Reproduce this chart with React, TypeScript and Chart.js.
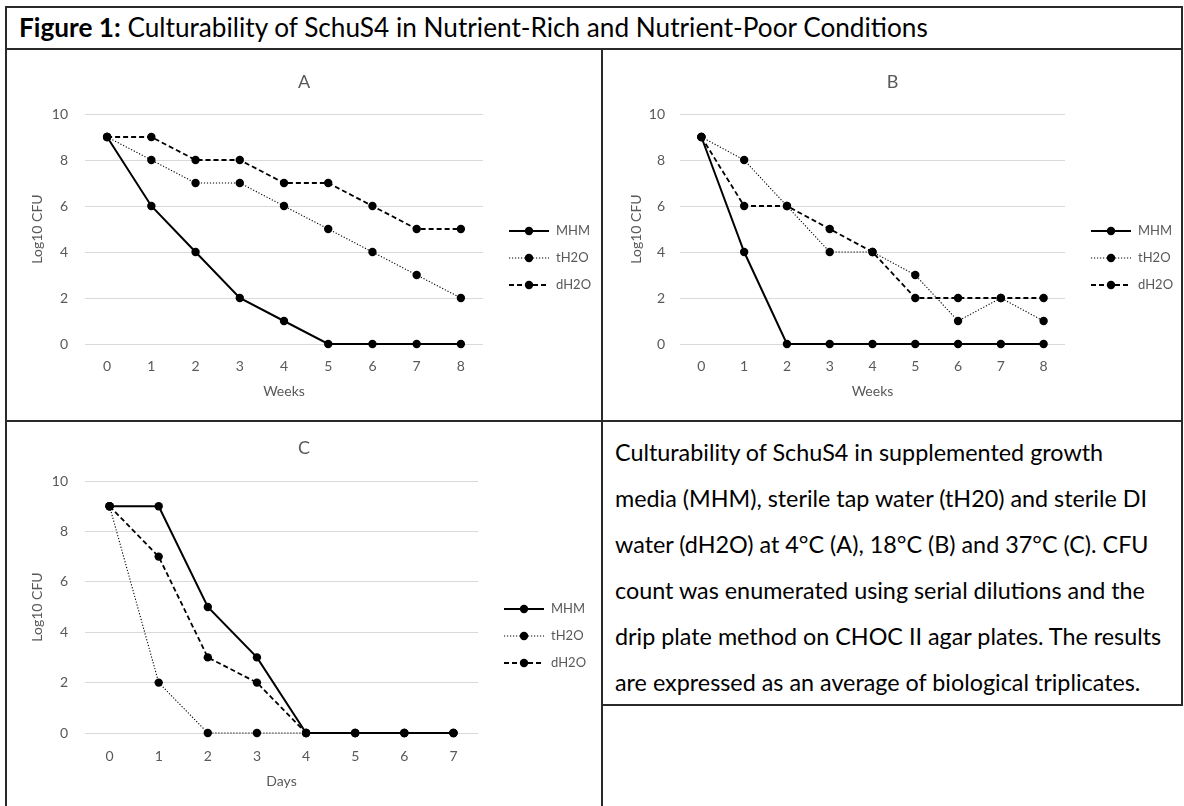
import React, { useEffect, useMemo, useRef } from "react";
import { Chart, registerables } from "chart.js";

Chart.register(...registerables);

// ---------------- data ----------------
const weekLabels = ["0", "1", "2", "3", "4", "5", "6", "7", "8"];
const dayLabels = ["0", "1", "2", "3", "4", "5", "6", "7"];
const seriesNames = ["MHM", "tH2O", "dH2O"];

const panelA_MHM = [9, 6, 4, 2, 1, 0, 0, 0, 0];
const panelA_tH2O = [9, 8, 7, 7, 6, 5, 4, 3, 2];
const panelA_dH2O = [9, 9, 8, 8, 7, 7, 6, 5, 5];

const panelB_MHM = [9, 4, 0, 0, 0, 0, 0, 0, 0];
const panelB_tH2O = [9, 8, 6, 4, 4, 3, 1, 2, 1];
const panelB_dH2O = [9, 6, 6, 5, 4, 2, 2, 2, 2];

const panelC_MHM = [9, 9, 5, 3, 0, 0, 0, 0];
const panelC_tH2O = [9, 2, 0, 0, 0, 0, 0, 0];
const panelC_dH2O = [9, 7, 3, 2, 0, 0, 0, 0];

const yTickMin = 0;
const yTickMax = 10;
const yTickStep = 2;
const yAxisTitle = "Log10 CFU";

const figureLabel = "Figure 1:";
const figureTitle = "Culturability of SchuS4 in Nutrient-Rich and Nutrient-Poor Conditions";
const captionLines = [
  "Culturability of SchuS4 in supplemented growth",
  "media (MHM), sterile tap water (tH20) and sterile DI",
  "water (dH2O) at 4°C (A), 18°C (B) and 37°C (C). CFU",
  "count was enumerated using serial dilutions and the",
  "drip plate method on CHOC II agar plates. The results",
  "are expressed as an average of biological triplicates.",
];

// ---------------- styles ----------------
const FONT = "Lato, 'Open Sans', sans-serif";
const AXIS_GRAY = "#595959";
const BORDER = "#2a2a2a";

const seriesStyles = [
  { borderWidth: 2, borderDash: [] as number[] },
  { borderWidth: 1.1, borderDash: [1.2, 1.8] },
  { borderWidth: 1.8, borderDash: [5, 3] },
];

type PanelCfg = {
  title: string;
  xTitle: string;
  labels: string[];
  values: number[][];
  box: { left: number; top: number; width: number; height: number };
  yAxisW: number;
  rightW: number;
  xAxisH: number;
  padBottom: number;
  titlePad: { top: number; bottom: number };
  yTitlePad: number;
  yTickPad: number;
  xTickPad: number;
  legendFrac: number;
};

const panels: PanelCfg[] = [
  {
    title: "A",
    xTitle: "Weeks",
    labels: weekLabels,
    values: [panelA_MHM, panelA_tH2O, panelA_dH2O],
    box: { left: 7, top: 51, width: 594, height: 369 },
    yAxisW: 78,
    rightW: 118,
    xAxisH: 56,
    padBottom: 20,
    titlePad: { top: 20.2, bottom: 21.2 },
    yTitlePad: 21.6,
    yTickPad: 17,
    xTickPad: 13.6,
    legendFrac: 0.626,
  },
  {
    title: "B",
    xTitle: "Weeks",
    labels: weekLabels,
    values: [panelB_MHM, panelB_tH2O, panelB_dH2O],
    box: { left: 604, top: 51, width: 577, height: 369 },
    yAxisW: 76,
    rightW: 116,
    xAxisH: 56,
    padBottom: 20,
    titlePad: { top: 20.2, bottom: 21.2 },
    yTitlePad: 23.6,
    yTickPad: 15,
    xTickPad: 13.6,
    legendFrac: 0.626,
  },
  {
    title: "C",
    xTitle: "Days",
    labels: dayLabels,
    values: [panelC_MHM, panelC_tH2O, panelC_dH2O],
    box: { left: 7, top: 422, width: 594, height: 384 },
    yAxisW: 78,
    rightW: 123,
    xAxisH: 56.4,
    padBottom: 16.6,
    titlePad: { top: 15.2, bottom: 22.2 },
    yTitlePad: 21.6,
    yTickPad: 17,
    xTickPad: 14.6,
    legendFrac: 0.615,
  },
];

// custom legend: line sample with marker, placed right of the plot area
const lineLegend = {
  id: "lineLegend",
  afterDraw(chart: any, _args: any, opts: any) {
    const { ctx, chartArea } = chart;
    const x0 = chartArea.left + chartArea.width + opts.offsetX;
    const cy = chartArea.top + chartArea.height * opts.frac;
    const ds = chart.data.datasets;
    const n = ds.length;
    ds.forEach((d: any, i: number) => {
      const y = cy + (i - (n - 1) / 2) * opts.spacing;
      ctx.save();
      ctx.strokeStyle = d.borderColor;
      ctx.lineWidth = d.borderWidth;
      ctx.setLineDash(d.borderDash || []);
      ctx.beginPath();
      ctx.moveTo(x0, y);
      ctx.lineTo(x0 + opts.lineLength, y);
      ctx.stroke();
      ctx.setLineDash([]);
      ctx.fillStyle = d.pointBackgroundColor;
      ctx.beginPath();
      ctx.arc(x0 + opts.lineLength / 2, y, d.pointRadius, 0, Math.PI * 2);
      ctx.fill();
      ctx.fillStyle = opts.color;
      ctx.font = opts.labelFont;
      ctx.textBaseline = "middle";
      ctx.textAlign = "left";
      ctx.fillText(d.label, x0 + opts.lineLength + opts.gap, y);
      ctx.restore();
    });
  },
};

function ChartPanel({ p }: { p: PanelCfg }) {
  const ref = useRef<HTMLCanvasElement>(null);
  useEffect(() => {
    const tickFont = { family: FONT, size: 14 };
    const chart = new Chart(ref.current as HTMLCanvasElement, {
      type: "line",
      data: {
        labels: p.labels,
        datasets: p.values.map((v, i) => ({
          label: seriesNames[i],
          data: v,
          borderColor: "#000",
          backgroundColor: "#000",
          pointBackgroundColor: "#000",
          pointBorderColor: "#000",
          pointRadius: 4.2,
          pointHoverRadius: 4.2,
          pointBorderWidth: 0,
          borderWidth: seriesStyles[i].borderWidth,
          borderDash: seriesStyles[i].borderDash,
          tension: 0,
          fill: false,
          clip: false as any,
        })),
      },
      options: {
        animation: false,
        responsive: false,
        devicePixelRatio: 1,
        layout: { padding: { left: 0, right: 0, top: 0, bottom: p.padBottom } },
        plugins: {
          legend: { display: false },
          tooltip: { enabled: false },
          title: {
            display: true,
            text: p.title,
            color: AXIS_GRAY,
            font: { family: FONT, size: 18, weight: "normal" },
            padding: p.titlePad,
          },
          lineLegend: {
            offsetX: 26,
            lineLength: 40,
            gap: 7,
            spacing: 27,
            frac: p.legendFrac,
            labelFont: `13px ${FONT}`,
            color: AXIS_GRAY,
          },
        } as any,
        scales: {
          x: {
            type: "category",
            offset: true,
            grid: { display: false, drawTicks: false },
            border: { display: false },
            ticks: { color: AXIS_GRAY, font: tickFont, padding: p.xTickPad, maxRotation: 0, autoSkip: false },
            title: { display: true, text: p.xTitle, color: AXIS_GRAY, font: tickFont, padding: 0 },
            afterFit: (s: any) => {
              s.height = p.xAxisH;
            },
          },
          y: {
            type: "linear",
            position: "left",
            min: yTickMin,
            max: yTickMax,
            ticks: { stepSize: yTickStep, color: AXIS_GRAY, font: tickFont, padding: p.yTickPad },
            grid: { color: "#d9d9d9", lineWidth: 1, drawTicks: false },
            border: { display: false },
            title: {
              display: true,
              text: yAxisTitle,
              color: AXIS_GRAY,
              font: tickFont,
              padding: { top: p.yTitlePad, bottom: 0 },
            },
            afterFit: (s: any) => {
              s.width = p.yAxisW;
            },
          },
          spacer: {
            type: "linear",
            position: "right",
            display: true,
            grid: { display: false, drawTicks: false },
            border: { display: false },
            ticks: { display: false },
            afterFit: (s: any) => {
              s.width = p.rightW;
            },
          },
        } as any,
      },
      plugins: [lineLegend as any],
    });
    return () => chart.destroy();
  }, [p]);
  return (
    <canvas
      ref={ref}
      width={p.box.width}
      height={p.box.height}
      style={{
        position: "absolute",
        left: p.box.left,
        top: p.box.top,
        width: p.box.width,
        height: p.box.height,
      }}
    />
  );
}

function measureParts(parts: { text: string; weight: number }[]): number {
  const ctx = document.createElement("canvas").getContext("2d") as CanvasRenderingContext2D;
  let w = 0;
  for (const part of parts) {
    ctx.font = `${part.weight} 100px ${FONT}`;
    w += ctx.measureText(part.text).width;
  }
  return w;
}

function Line({ x, y, w, h }: { x: number; y: number; w: number; h: number }) {
  return <div style={{ position: "absolute", left: x, top: y, width: w, height: h, background: BORDER }} />;
}

export default function App() {
  const titleSize = useMemo(() => {
    const w = measureParts([
      { text: figureLabel, weight: 700 },
      { text: " " + figureTitle, weight: 400 },
    ]);
    return (100 * 911) / w;
  }, []);
  const bodySize = useMemo(() => {
    const w = measureParts(captionLines.map((t) => ({ text: t, weight: 400 })));
    return (100 * 3161) / w;
  }, []);

  const titleBaseline = 38;
  const bodyBaseline = 461;
  const bodyLineGap = 46;

  return (
    <div
      style={{
        position: "absolute",
        left: 0,
        top: 0,
        width: 1184,
        height: 806,
        overflow: "hidden",
        background: "#fff",
        fontFamily: FONT,
      }}
    >
      {/* table borders */}
      <Line x={5} y={6} w={1178} h={2} />
      <Line x={5} y={48} w={1178} h={2} />
      <Line x={5} y={420} w={1178} h={2} />
      <Line x={5} y={6} w={2} h={800} />
      <Line x={601} y={48} w={2} h={758} />
      <Line x={1181} y={6} w={2} h={700} />
      <Line x={601} y={704} w={582} h={2} />

      {/* figure title */}
      <div
        style={{
          position: "absolute",
          left: 19,
          top: titleBaseline - 0.987 * titleSize,
          fontSize: titleSize,
          lineHeight: `${1.2 * titleSize}px`,
          whiteSpace: "nowrap",
          color: "#000",
        }}
      >
        <span style={{ fontWeight: 700 }}>{figureLabel}</span> {figureTitle}
      </div>

      {/* caption */}
      {captionLines.map((t, i) => (
        <div
          key={i}
          style={{
            position: "absolute",
            left: 615,
            top: bodyBaseline + i * bodyLineGap - 0.987 * bodySize,
            fontSize: bodySize,
            lineHeight: `${1.2 * bodySize}px`,
            whiteSpace: "nowrap",
            color: "#000",
          }}
        >
          {t}
        </div>
      ))}

      {panels.map((p) => (
        <ChartPanel key={p.title} p={p} />
      ))}
    </div>
  );
}
